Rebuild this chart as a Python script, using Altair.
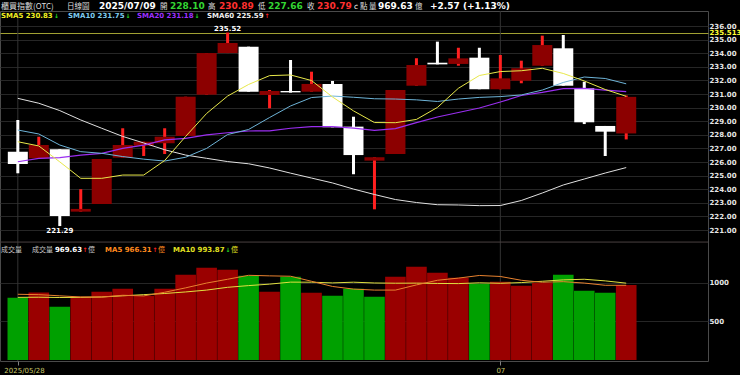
import altair as alt
import pandas as pd

# ---------------- data ----------------
idx = list(range(1, 31))
opens = [226.76, 226.27, 226.93, 222.35, 222.91, 226.32, 227.20, 227.38, 227.91, 230.95,
         234.01, 234.48, 230.93, 231.22, 231.17, 231.74, 228.60, 226.10, 226.59, 231.61,
         233.30, 233.21, 233.67, 231.35, 231.98, 233.08, 234.36, 231.42, 228.65, 228.10]
highs = [229.09, 227.86, 226.93, 224.00, 226.22, 228.48, 227.49, 228.48, 230.80, 234.01,
         235.52, 234.48, 231.29, 233.50, 232.64, 231.96, 229.33, 226.35, 231.29, 233.63,
         234.85, 234.40, 234.40, 233.87, 233.45, 235.29, 235.34, 231.90, 228.65, 230.89]
lows = [225.17, 226.27, 221.29, 222.35, 222.91, 226.32, 226.44, 226.59, 227.91, 230.95,
        234.01, 231.17, 229.95, 231.10, 231.17, 228.55, 225.10, 222.52, 226.59, 231.61,
        233.18, 233.08, 231.35, 231.35, 231.79, 233.08, 231.61, 228.79, 226.44, 227.66]
closes = [225.85, 227.25, 222.03, 222.55, 226.22, 227.25, 227.49, 227.86, 230.80, 234.01,
          234.75, 231.17, 231.22, 231.12, 231.74, 228.55, 226.51, 226.35, 231.29, 233.13,
          233.18, 233.62, 231.35, 232.15, 232.89, 234.60, 231.61, 228.92, 228.23, 230.79]
sma5 = [227.49, 227.18, 226.01, 224.80, 224.80, 225.04, 225.04, 226.11, 227.88, 229.57,
        230.85, 231.70, 232.35, 232.40, 231.99, 230.78, 229.76, 228.90, 228.89, 229.13,
        230.01, 231.42, 232.36, 232.65, 232.71, 232.89, 232.51, 231.96, 231.33, 230.83]
sma10 = [228.35, 228.06, 227.25, 226.76, 226.64, 226.40, 226.21, 226.07, 226.35, 227.00,
         228.02, 228.39, 229.27, 230.12, 230.74, 230.85, 230.76, 230.65, 230.63, 230.57,
         230.45, 230.63, 230.75, 230.81, 230.93, 231.29, 231.85, 232.25, 232.14, 231.75]
sma20 = [226.02, 226.26, 226.32, 226.51, 226.64, 227.00, 227.24, 227.62, 227.74, 227.99,
         228.15, 228.28, 228.29, 228.48, 228.60, 228.60, 228.49, 228.32, 228.46, 228.90,
         229.31, 229.64, 229.97, 230.41, 230.89, 231.12, 231.40, 231.42, 231.29, 231.18]
sma60 = [230.68, 230.32, 229.78, 229.09, 228.48, 227.88, 227.40, 226.90, 226.51, 226.27,
         226.03, 225.87, 225.56, 225.18, 224.82, 224.46, 224.01, 223.61, 223.24, 223.02,
         222.86, 222.84, 222.79, 222.80, 223.17, 223.72, 224.31, 224.75, 225.19, 225.59]
vols = [806, 872, 690, 819, 884, 922, 832, 922, 1103, 1194, 1168, 1090, 884, 1077, 871,
        832, 922, 819, 1077, 1206, 1129, 1065, 987, 1013, 961, 1000, 1103, 896, 871, 969.63]
vol_ma5 = [850, 845, 830, 815, 814, 837, 829, 876, 933, 995, 1044, 1095, 1088, 1083, 1018,
           951, 917, 904, 904, 971, 1031, 1059, 1093, 1080, 1031, 1005, 1013, 995, 966, 966.31]
vol_ma10 = [810, 812, 808, 810, 815, 830, 845, 860, 880, 904, 940, 962, 981, 1007, 1006,
            997, 1006, 996, 993, 994, 990, 988, 998, 992, 1001, 1018, 1036, 1044, 1023, 993.87]
vol_dir = ['down', 'up', 'down', 'up', 'up', 'up', 'up', 'up', 'up', 'up',
           'up', 'down', 'up', 'down', 'up', 'down', 'down', 'down', 'up', 'up',
           'up', 'up', 'down', 'up', 'up', 'up', 'down', 'down', 'down', 'up']

price_ticks = [221, 222, 223, 224, 225, 226, 227, 228, 229, 230, 231, 232, 233, 234, 235, 236, 235.513]
vol_ticks = [500, 1000]
date_ticks = [1, 24]
date_labels = ['2025/05/28', '07']

# ---------------- tables ----------------
df = pd.DataFrame({
    'i': idx, 'open': opens, 'high': highs, 'low': lows, 'close': closes,
    'sma5': sma5, 'sma10': sma10, 'sma20': sma20, 'sma60': sma60,
    'vol': vols, 'vma5': vol_ma5, 'vma10': vol_ma10, 'vdir': vol_dir,
})
df['dir'] = ['up' if c >= o else 'down' for o, c in zip(opens, closes)]

hi_i = highs.index(max(highs))
lo_i = lows.index(min(lows))
hi_df = pd.DataFrame({'i': [idx[hi_i]], 'p': [highs[hi_i]], 't': [f"{highs[hi_i]:.2f}"]})
lo_df = pd.DataFrame({'i': [idx[lo_i]], 'p': [lows[lo_i]], 't': [f"{lows[lo_i]:.2f}"]})
date_df = pd.DataFrame({'i': date_ticks, 'label': date_labels})

# ---------------- scales / axes ----------------
FONT = 'DejaVu Sans'
CJK = 'Noto Sans CJK TC'
GRID = '#262626'

xscale = alt.Scale(domain=[0.389, 33.66], nice=False, zero=False)
xaxis = alt.Axis(values=date_ticks, orient='bottom', title=None,
                 labelExpr="datum.value == 1 ? '2025/05/28' : '07'",
                 labelAlign={'condition': {'test': 'datum.value == 1', 'value': 'left'}, 'value': 'center'},
                 labelOffset={'condition': {'test': 'datum.value == 1', 'value': -14}, 'value': 0},
                 labelColor='#c8c86a', labelFont=FONT, labelFontSize=7,
                 labelFlush=False, labelPadding=1, labelBound=False,
                 tickColor='#808080', tickSize=4, domain=False, grid=False)
X = alt.X('i:Q', scale=xscale, axis=xaxis)

pscale = alt.Scale(domain=[221, 236], range=[219, 15], nice=False, zero=False)
paxis = alt.Axis(orient='right', values=price_ticks, title=None,
                 labelExpr="datum.value == 235.513 ? '235.513' : format(datum.value, '.2f')",
                 labelColor=alt.condition('datum.value == 235.513', alt.value('#ffff33'), alt.value('#e6e6e6')),
                 gridColor=alt.condition('datum.value == 235.513', alt.value('#a0a032'), alt.value(GRID)),
                 labelFont=FONT, labelFontSize=7, labelFontWeight='bold',
                 labelPadding=1, labelOverlap=False, ticks=False, tickSize=0,
                 domain=False, grid=True)

vscale = alt.Scale(domain=[0, 1500], range=[349, 233], nice=False, zero=True)
vaxis = alt.Axis(orient='right', values=vol_ticks, title=None, format='d',
                 labelColor='#e6e6e6', labelFont=FONT, labelFontSize=7, labelFontWeight='bold',
                 labelPadding=1, labelOverlap=False, ticks=False, tickSize=0,
                 domain=False, grid=True, gridColor=GRID)

def PY(f):
    return alt.Y(f, scale=pscale, axis=paxis)

def VY(f):
    return alt.Y(f, scale=vscale, axis=vaxis)

base = alt.Chart(df)

wick_col = alt.condition("datum.dir == 'up'", alt.value('#ff2020'), alt.value('#ffffff'))
body_col = alt.condition("datum.dir == 'up'", alt.value('#8c0000'), alt.value('#ffffff'))

vgrid = alt.Chart(date_df).mark_rule(color='#333333', strokeWidth=1).encode(x=X)
wick = base.mark_rule(strokeWidth=3).encode(x=X, y=PY('low:Q'), y2='high:Q', color=wick_col)
body = base.mark_bar(size=20).encode(x=X, y=PY('open:Q'), y2='close:Q', color=body_col)
l60 = base.mark_line(color='#e0e0e0', strokeWidth=1).encode(x=X, y=PY('sma60:Q'))
l20 = base.mark_line(color='#9a2ef0', strokeWidth=1.2).encode(x=X, y=PY('sma20:Q'))
l10 = base.mark_line(color='#6eb4d8', strokeWidth=1).encode(x=X, y=PY('sma10:Q'))
l5 = base.mark_line(color='#e8e84a', strokeWidth=1).encode(x=X, y=PY('sma5:Q'))
hi_lab = alt.Chart(hi_df).mark_text(font=FONT, fontSize=7, fontWeight='bold', color='#ffffff',
                                    baseline='bottom', dy=-1).encode(x=X, y=PY('p:Q'), text='t:N')
lo_lab = alt.Chart(lo_df).mark_text(font=FONT, fontSize=7, fontWeight='bold', color='#ffffff',
                                    baseline='top', dy=1).encode(x=X, y=PY('p:Q'), text='t:N')

one = pd.DataFrame({'a': [0]})

def txt(s, x, y, color, size=7, weight='bold', font=FONT):
    return alt.Chart(one).mark_text(text=s, font=font, fontSize=size, fontWeight=weight, color=color,
                                    align='left', baseline='alphabetic').encode(x=alt.value(x), y=alt.value(y))

GREEN_T = '#33d633'
RED_T = '#ff3030'
LBL = '#dcdcdc'
UP = '#ff2020'
DN = '#22dd22'
r1 = -1.8
r2 = 7.3
r3 = 241.0
texts = [
    txt('櫃買指數(OTC)', 1, r1, LBL, 8, 'normal', CJK),
    txt('日線圖', 67, r1, LBL, 7.5, 'normal', CJK),
    txt('2025/07/09', 99, r1, '#ffffff', 9),
    txt('開', 160, r1, LBL, 7.5, 'normal', CJK),
    txt('228.10', 170, r1, GREEN_T, 9),
    txt('高', 208, r1, LBL, 7.5, 'normal', CJK),
    txt('230.89', 219, r1, RED_T, 9),
    txt('低', 258, r1, LBL, 7.5, 'normal', CJK),
    txt('227.66', 268, r1, GREEN_T, 9),
    txt('收', 307, r1, LBL, 7.5, 'normal', CJK),
    txt('230.79', 317, r1, RED_T, 9),
    txt('c', 354, r1, '#ffffff', 7.5, 'normal'),
    txt('點', 360, r1, LBL, 7.5, 'normal', CJK),
    txt('量', 369, r1, LBL, 7.5, 'normal', CJK),
    txt('969.63', 378, r1, '#ffffff', 9),
    txt('億', 415, r1, LBL, 7.5, 'normal', CJK),
    txt('+2.57 (+1.13%)', 430, r1, '#ffffff', 9),
    # moving-average legend
    txt('SMA5 230.83', 1, r2, '#f0f020'),
    txt('↓', 54, r2, DN, 6),
    txt('SMA10 231.75', 68, r2, '#7ecbef'),
    txt('↓', 125.5, r2, DN, 6),
    txt('SMA20 231.18', 137, r2, '#9b30ff'),
    txt('↓', 194.5, r2, DN, 6),
    txt('SMA60 225.59', 207, r2, '#f0f0f0'),
    txt('↑', 264.5, r2, UP, 6),
    # volume legend
    txt('成交量', 1, r3, '#c8c8c8', 7, 'normal', CJK),
    txt('成交量', 32, r3, '#c8c8c8', 7, 'normal', CJK),
    txt('969.63', 55, r3, '#ffffff'),
    txt('↑', 82.5, r3, UP, 6),
    txt('億', 88, r3, '#c8c8c8', 7, 'normal', CJK),
    txt('MA5 966.31', 105, r3, '#ff8a1e'),
    txt('↑', 152.5, r3, UP, 6),
    txt('億', 158, r3, '#ff8a1e', 7, 'normal', CJK),
    txt('MA10 993.87', 173, r3, '#e0e020'),
    txt('↓', 225.5, r3, DN, 6),
    txt('億', 231, r3, '#e0e020', 7, 'normal', CJK),
]

price = alt.layer(vgrid, wick, body, l60, l20, l10, l5, hi_lab, lo_lab, *texts)

vcol = alt.condition("datum.vdir == 'up'", alt.value('#9a0000'), alt.value('#00a000'))
vbar = base.mark_bar(size=20.6).encode(x=X, y=VY('vol:Q'), color=vcol)
vm10 = base.mark_line(color='#e0e040', strokeWidth=1).encode(x=X, y=VY('vma10:Q'))
vm5 = base.mark_line(color='#e8822f', strokeWidth=1).encode(x=X, y=VY('vma5:Q'))
sep = alt.Chart(pd.DataFrame({'v': [1525]})).mark_rule(color='#4a4040', strokeWidth=1).encode(y=VY('v:Q'))
volume = alt.layer(sep, vbar, vm10, vm5)

chart = alt.layer(price, volume).resolve_scale(y='independent').properties(
    width=708, height=350, background='#000000',
    padding={'left': 0, 'top': 11, 'right': 32, 'bottom': 14},
    autosize=alt.AutoSizeParams(type='none'),
).configure_view(stroke='#4a4a4a', strokeWidth=1)

chart.save('out.html', embed_options={'renderer': 'svg', 'actions': False})
